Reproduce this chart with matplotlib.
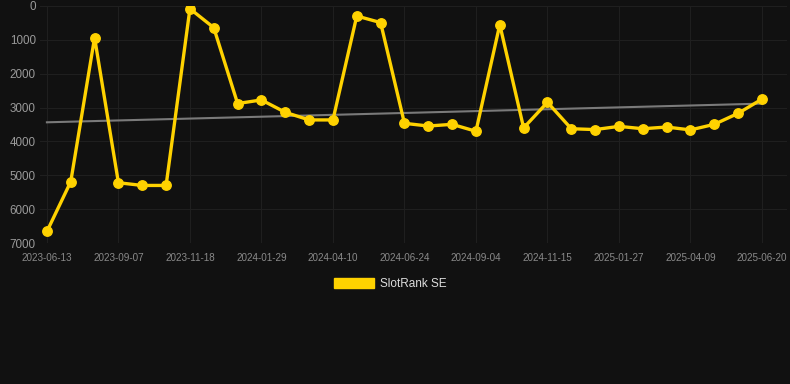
import matplotlib
matplotlib.use("Agg")
import matplotlib.pyplot as plt
from matplotlib.patches import Patch
import numpy as np

plt.rcParams['font.family'] = ['Liberation Sans', 'DejaVu Sans']

tick_labels = ["2023-06-13", "2023-09-07", "2023-11-18", "2024-01-29", "2024-04-10",
               "2024-06-24", "2024-09-04", "2024-11-15", "2025-01-27", "2025-04-09",
               "2025-06-20"]
rank_se = [6660, 5190, 935, 5220, 5300, 5300, 80, 640, 2880, 2775, 3140, 3365, 3365,
           295, 490, 3465, 3545, 3495, 3700, 550, 3600, 2845, 3625, 3650, 3555, 3625,
           3575, 3660, 3495, 3170, 2750]
series_name = "SlotRank SE"

bg = "#111111"
gold = "#FFD200"

fig = plt.figure(figsize=(7.9, 3.84), dpi=100, facecolor=bg)
ax = fig.add_axes([40/790, 1-243/384, (787-40)/790, (243-6)/384])
ax.set_facecolor(bg)

x = np.arange(len(rank_se))
y = np.array(rank_se, dtype=float)

# trend line
coef = np.polyfit(x, y, 1)
ax.plot([x[0], x[-1]], np.polyval(coef, [x[0], x[-1]]), color="#7a7a7a", lw=1.5, zorder=2)

ax.plot(x, y, color=gold, lw=2.4, marker="o", markersize=6.8, zorder=3,
        solid_joinstyle="round")

ax.set_ylim(7000, 0)
ax.set_xlim(-0.29, 31.05)
ax.set_yticks(np.arange(0, 7001, 1000))
ax.set_xticks(x[::3])
ax.set_xticklabels(tick_labels)

for s in ax.spines.values():
    s.set_visible(False)
ax.grid(True, color="#1f1f1f", lw=0.8, zorder=0)
ax.tick_params(axis="x", length=0, pad=7, labelsize=7.1, labelcolor="#8a8a8a")
ax.tick_params(axis="y", length=0, pad=3, labelsize=8.4, labelcolor="#9a9a9a")

handle = Patch(facecolor=gold, edgecolor=gold)
leg = fig.legend([handle], [series_name], loc="center", bbox_to_anchor=(390/790, 1-284/384),
                 frameon=False, fontsize=8.5, handlelength=3.4, handleheight=0.93,
                 handletextpad=0.5, labelcolor="#dddddd")

fig.savefig("out.png", dpi=100, facecolor=bg)
